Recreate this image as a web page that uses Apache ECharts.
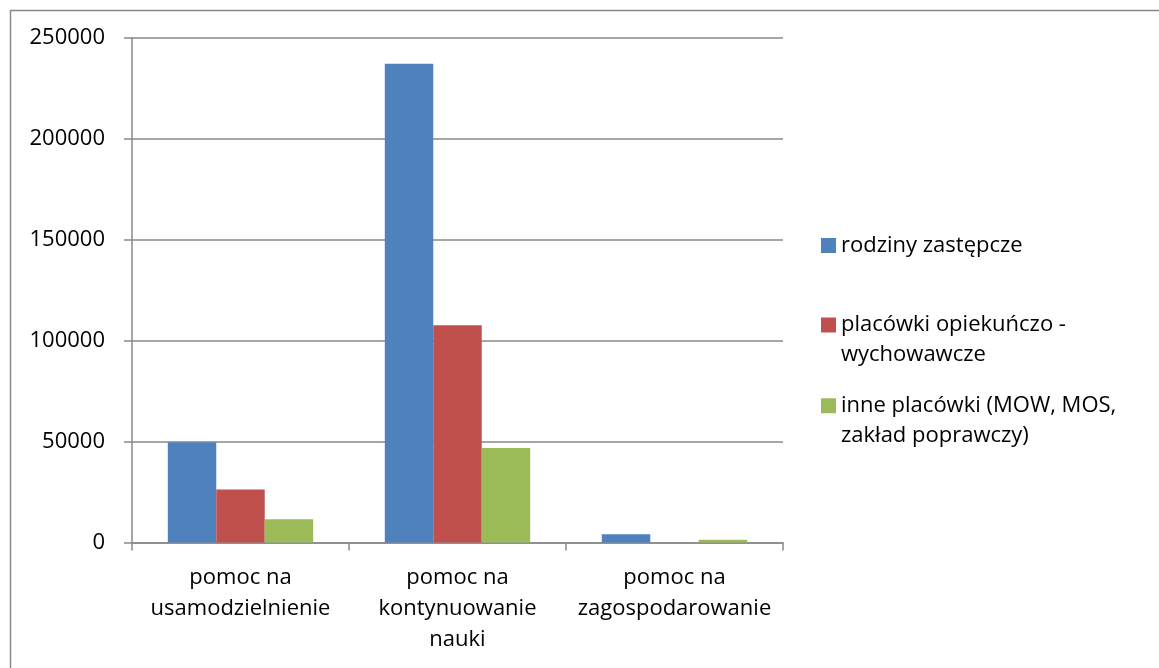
<!DOCTYPE html>
<html>
<head>
<meta charset="utf-8">
<script src="https://cdn.jsdelivr.net/npm/echarts@6/dist/echarts.min.js"></script>
<style>
  html, body { margin: 0; padding: 0; background: #fff; }
  #chart { width: 1159px; height: 668px; }
</style>
</head>
<body>
<div id="chart"></div>
<script>
// dane
const categories = ['pomoc na\nusamodzielnienie', 'pomoc na\nkontynuowanie\nnauki', 'pomoc na\nzagospodarowanie']
const seriesNames = ['rodziny zastępcze', 'placówki opiekuńczo -\nwychowawcze', 'inne placówki (MOW, MOS,\nzakład poprawczy)']
const rodziny = [49700, 237300, 4150]
const placowki = [26250, 107600, 0]
const inne = [11460, 46840, 1330]
const yTicks = [0, 50000, 100000, 150000, 200000, 250000]

const colors = ['#4F81BD', '#C0504D', '#9BBB59']
const font = '"Open Sans", "Noto Sans", sans-serif'
const gray = '#898989'

const chart = echarts.init(document.getElementById('chart'))

// legenda: osobny komponent na każdą serię; przy dwóch liniach kwadrat
// rysowany w górnej części wyższej ikony, żeby stał przy pierwszej linii
const tallIcon = 'path://M0,0h15v15h-15zM0,45h0.001v0.001h-0.001z'
const legendTops = [230.5, 310, 390.7]
const legends = seriesNames.map((name, i) => ({
  left: 821,
  top: legendTops[i],
  padding: 0,
  selectedMode: false,
  itemWidth: 15,
  itemHeight: i === 0 ? 15 : 45,
  icon: i === 0 ? 'rect' : tallIcon,
  data: [name],
  textStyle: {
    fontFamily: font,
    fontSize: 22,
    lineHeight: 30,
    color: '#000'
  }
}))

chart.setOption({
  animation: false,
  backgroundColor: '#fff',
  graphic: [{
    type: 'rect',
    left: 8,
    top: 8,
    shape: { width: 2000, height: 2000 },
    style: { fill: 'none', stroke: gray, lineWidth: 1.5 },
    silent: true
  }],
  legend: legends,
  grid: {
    left: 132,
    top: 38,
    width: 651,
    height: 504.5
  },
  xAxis: {
    type: 'category',
    data: categories,
    axisLine: { lineStyle: { color: gray, width: 1.5 } },
    axisTick: { show: true, length: 8, lineStyle: { color: gray, width: 1.5 } },
    axisLabel: {
      margin: 20,
      fontFamily: font,
      fontSize: 22,
      lineHeight: 31,
      color: '#000',
      interval: 0
    }
  },
  yAxis: {
    type: 'value',
    min: yTicks[0],
    max: yTicks[yTicks.length - 1],
    interval: yTicks[1] - yTicks[0],
    axisLine: { show: true, lineStyle: { color: gray, width: 1.5 } },
    axisTick: { show: true, length: 8, lineStyle: { color: gray, width: 1.5 } },
    splitLine: { show: true, lineStyle: { color: gray, width: 1.5 } },
    axisLabel: {
      margin: 27,
      fontFamily: font,
      fontSize: 22,
      color: '#000',
      formatter: v => String(v)
    }
  },
  series: [
    { type: 'bar', name: seriesNames[0], data: rodziny, itemStyle: { color: colors[0] }, barGap: '0%', barCategoryGap: '33%' },
    { type: 'bar', name: seriesNames[1], data: placowki, itemStyle: { color: colors[1] }, barGap: '0%', barCategoryGap: '33%' },
    { type: 'bar', name: seriesNames[2], data: inne, itemStyle: { color: colors[2] }, barGap: '0%', barCategoryGap: '33%' }
  ]
})
</script>
</body>
</html>
